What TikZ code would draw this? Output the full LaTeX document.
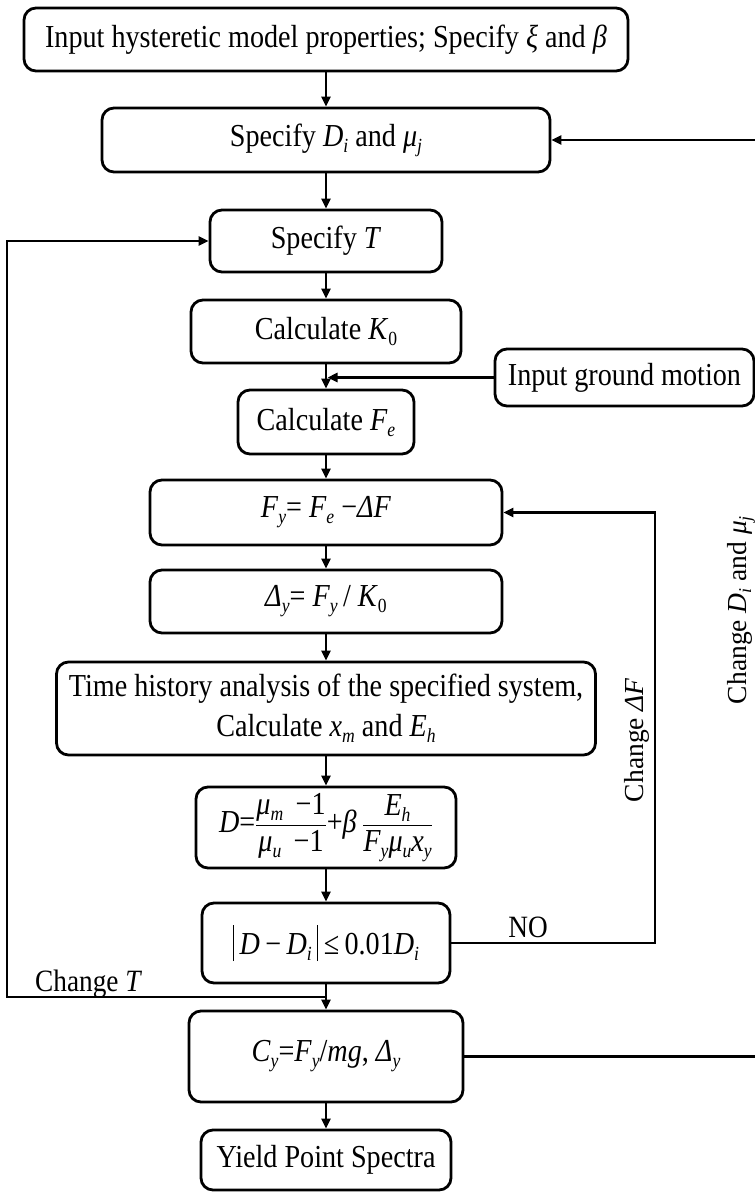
\documentclass[tikz,border=0pt]{standalone}
\usepackage{fontspec}
\setmainfont[FakeStretch=0.88]{Liberation Serif}
\newfontfamily\plainfont{Liberation Serif}
\usepackage{amsmath}
\usetikzlibrary{arrows.meta}
\newcommand\sbs[1]{\raisebox{-6pt}{\fontsize{20}{20}\selectfont #1}}
\newcommand\iv[1]{\textit{#1}}
\newcommand\vbar{\rule[-7pt]{1.4pt}{36pt}}
\begin{document}
\begin{tikzpicture}[x=1pt,y=-1pt,
  box/.style={draw, line width=2.8pt, rounded corners=12pt, inner sep=0pt, align=center,
    font=\fontsize{32}{40}\selectfont},
  lbl/.style={inner sep=0pt, font=\fontsize{31}{36}\selectfont},
  rlbl/.style={inner sep=0pt, rotate=90, font=\plainfont\fontsize{27.5}{33}\selectfont},
  ln/.style={line width=2.6pt},
  arr/.style={ln, -{Triangle[length=10pt,width=9pt]}}]
\useasboundingbox (0,0) rectangle (755,1192);
% boxes
\node[box, minimum width=604pt, minimum height=63pt] (b1) at (326,39.5)
  {Input hysteretic model properties; Specify \iv{ξ} and \iv{β}};
\node[box, minimum width=448pt, minimum height=64pt] (b2) at (326,140)
  {Specify \iv{D}\sbs{\iv{i}} and \iv{μ}\sbs{\iv{j}}};
\node[box, minimum width=232pt, minimum height=62pt] (b3) at (326,241)
  {Specify \iv{T}};
\node[box, minimum width=270pt, minimum height=63pt] (b4) at (326,331.5)
  {Calculate \iv{K}\sbs{0}};
\node[box, minimum width=176pt, minimum height=64pt] (b5) at (326,422)
  {Calculate \iv{F}\sbs{\iv{e}}};
\node[box, minimum width=259pt, minimum height=57pt] (ig) at (624.5,377.5)
  {Input ground motion};
\node[box, minimum width=352pt, minimum height=65pt] (b6) at (326,512.5)
  {\iv{F}\sbs{\iv{y}}= \iv{F}\sbs{\iv{e}} −\iv{ΔF}};
\node[box, minimum width=352pt, minimum height=63pt] (b7) at (326,601.5)
  {\iv{Δ}\sbs{\iv{y}}= \iv{F}\sbs{\iv{y}}\,/ \iv{K}\sbs{0}};
\node[box, minimum width=539pt, minimum height=93pt] (b8) at (326,708.5)
  {Time history analysis of the specified system,\\Calculate \iv{x}\sbs{\iv{m}} and \iv{E}\sbs{\iv{h}}};
\node[box, minimum width=260pt, minimum height=81pt] (b9) at (326,827.5)
  {\iv{D}=$\genfrac{}{}{1.2pt}{0}{\text{\iv{μ}\sbs{\iv{m}}\, −1}}{\text{\iv{μ}\sbs{\iv{u}}\, −1}}$+\iv{β}\,$\genfrac{}{}{1.2pt}{0}{\text{\iv{E}\sbs{\iv{h}}}}{\text{\iv{F}\sbs{\iv{y}}\iv{μ}\sbs{\iv{u}}\iv{x}\sbs{\iv{y}}}}$};
\node[box, minimum width=248pt, minimum height=80pt] (b10) at (326,943)
  {\vbar\,\iv{D}\,−\,\iv{D}\sbs{\iv{i}}\,\vbar\,≤\,0.01\iv{D}\sbs{\iv{i}}};
\node[box, minimum width=274pt, minimum height=91pt] (b11) at (326,1056.5)
  {\iv{C}\sbs{\iv{y}}=\iv{F}\sbs{\iv{y}}/\iv{mg}, \iv{Δ}\sbs{\iv{y}}};
\node[box, minimum width=250pt, minimum height=60pt] (b12) at (326,1160)
  {Yield Point Spectra};
% labels
\node[lbl, anchor=base west] (lt) at (35,991) {Change \iv{T}};
\node[lbl, anchor=base] (lno) at (528,937) {NO};
\node[rlbl] (ldf) at (637,740) {Change \iv{ΔF}};
\node[rlbl] (ldm) at (741,610) {Change \iv{D}\raisebox{-5pt}{\fontsize{18}{18}\selectfont\iv{i}} and \iv{μ}\raisebox{-5pt}{\fontsize{18}{18}\selectfont\iv{j}}};
% coordinates
\coordinate (tj) at (326,997);
\coordinate (tl) at (7,997);
\coordinate (ij) at (327.5,377.5);
\coordinate (fr) at (655,943);
\coordinate (dr) at (772,1056.5);
% main flow
\draw[arr] (b1.south) -- (b2.north);
\draw[arr] (b2.south) -- (b3.north);
\draw[arr] (b3.south) -- (b4.north);
\draw[arr] (b4.south) -- (b5.north);
\draw[arr] (b5.south) -- (b6.north);
\draw[arr] (b6.south) -- (b7.north);
\draw[arr] (b7.south) -- (b8.north);
\draw[arr] (b8.south) -- (b9.north);
\draw[arr] (b9.south) -- (b10.north);
\draw[arr] (b10.south) -- (b11.north);
\draw[arr] (b11.south) -- (b12.north);
% side inputs and loops
\draw[arr] (ig.west) -- (ij);
\draw[arr] (tj) -- (tl) |- (b3.west);
\draw[arr] (b10.east) -- (fr) |- (b6.east);
\draw[arr] (b11.east) -- (dr) |- (b2.east);
\end{tikzpicture}
\end{document}
